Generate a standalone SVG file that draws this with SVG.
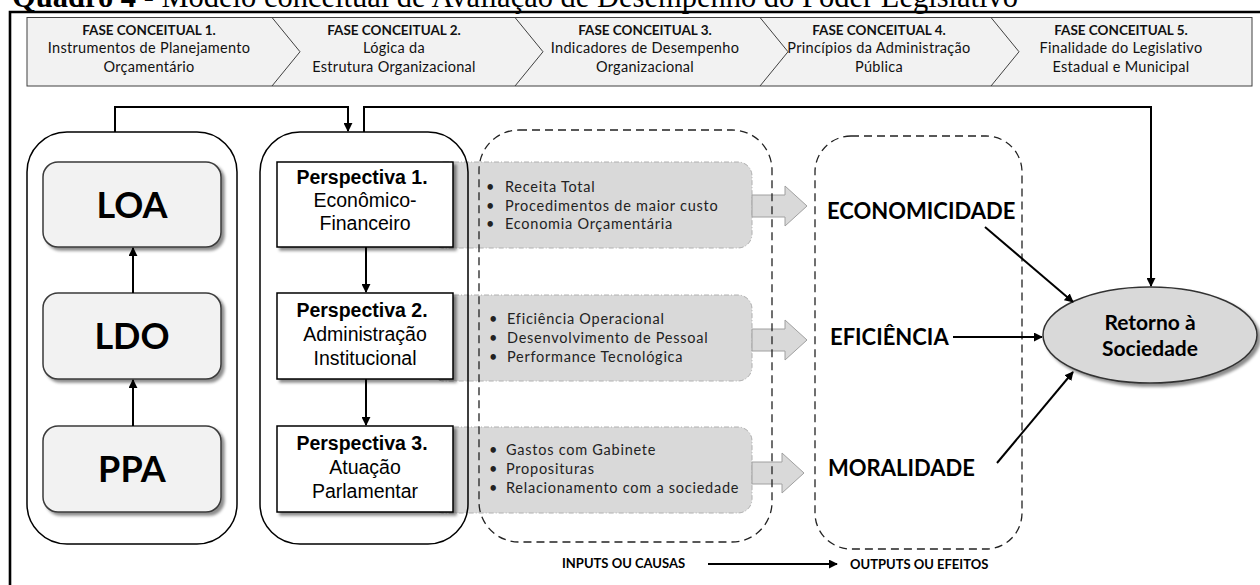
<svg xmlns="http://www.w3.org/2000/svg" width="1260" height="585" viewBox="0 0 1260 585">
<defs>
<style>
.title{font-family:"Liberation Serif","Times New Roman",serif;font-size:30.5px;fill:#000}
.ph{font-family:Lato,"Open Sans",sans-serif;font-size:14.5px;letter-spacing:0.3px;fill:#111;text-anchor:middle}
.phb{font-weight:bold;font-size:13.5px;letter-spacing:0}
.big{font-family:Lato,"Open Sans",sans-serif;font-weight:bold;font-size:36px;fill:#000;text-anchor:middle}
.per{font-family:"Liberation Sans",Arial,sans-serif;font-size:19.5px;fill:#000;text-anchor:middle}
.bul{font-family:Lato,"Open Sans",sans-serif;font-size:14.5px;fill:#222;letter-spacing:0.75px}
.out{font-family:Lato,"Open Sans",sans-serif;font-weight:bold;font-size:22px;fill:#000}
.lab{font-family:Lato,"Open Sans",sans-serif;font-weight:bold;font-size:13px;fill:#000}
.ell{font-family:Lato,"Open Sans",sans-serif;font-weight:bold;font-size:21px;fill:#000;text-anchor:middle}
.con{fill:none;stroke:#000;stroke-width:2}
.cont{fill:none;stroke:#000;stroke-width:1.5}
.dash{fill:none;stroke:#222;stroke-width:1.3;stroke-dasharray:8 5}
.band{fill:#d9d9d9;stroke:#b0b0b0;stroke-width:1;stroke-dasharray:5 2 1 2}
.barrow{fill:#d9d9d9;stroke:#a0a0a0;stroke-width:1}
.gbox{fill:#f2f2f2;stroke:#3a3a3a;stroke-width:1.5}
.wbox{fill:#fff;stroke:#000;stroke-width:1.5}
</style>
<filter id="sh" x="-10%" y="-10%" width="130%" height="130%">
<feDropShadow dx="3" dy="3" stdDeviation="1.8" flood-color="#000" flood-opacity="0.45"/>
</filter>
<marker id="ah" viewBox="0 0 10 10" refX="9" refY="5" markerWidth="4.5" markerHeight="4.5" orient="auto" markerUnits="strokeWidth">
<path d="M0,0 L10,5 L0,10 z" fill="#000"/>
</marker>
</defs>
<rect width="1260" height="585" fill="#fff"/>

<text class="title" x="12" y="6.5"><tspan font-weight="bold">Quadro 4 -</tspan> Modelo conceitual de Avaliação de Desempenho do Poder Legislativo</text>
<path d="M10,585 V12 H1260" fill="none" stroke="#000" stroke-width="2.6"/>

<g id="phases">
<rect x="27" y="17.5" width="1225" height="68.5" fill="#f2f2f2" stroke="#404040" stroke-width="1"/>
<polyline points="272,17.5 300,51.75 272,86" fill="none" stroke="#404040" stroke-width="1"/>
<polyline points="515,17.5 543,51.75 515,86" fill="none" stroke="#404040" stroke-width="1"/>
<polyline points="760,17.5 788,51.75 760,86" fill="none" stroke="#404040" stroke-width="1"/>
<polyline points="991,17.5 1019,51.75 991,86" fill="none" stroke="#404040" stroke-width="1"/>
<g id="phase1"><text class="ph phb" x="149" y="35">FASE CONCEITUAL 1.</text><text class="ph" x="149" y="53">Instrumentos de Planejamento</text><text class="ph" x="149" y="71.5">Orçamentário</text></g>
<g id="phase2"><text class="ph phb" x="394" y="35">FASE CONCEITUAL 2.</text><text class="ph" x="394" y="53">Lógica da</text><text class="ph" x="394" y="71.5">Estrutura Organizacional</text></g>
<g id="phase3"><text class="ph phb" x="645" y="35">FASE CONCEITUAL 3.</text><text class="ph" x="645" y="53">Indicadores de Desempenho</text><text class="ph" x="645" y="71.5">Organizacional</text></g>
<g id="phase4"><text class="ph phb" x="879" y="35">FASE CONCEITUAL 4.</text><text class="ph" x="879" y="53">Princípios da Administração</text><text class="ph" x="879" y="71.5">Pública</text></g>
<g id="phase5"><text class="ph phb" x="1121" y="35">FASE CONCEITUAL 5.</text><text class="ph" x="1121" y="53">Finalidade do Legislativo</text><text class="ph" x="1121" y="71.5">Estadual e Municipal</text></g>
</g>

<g id="bands">
<rect class="band" x="430" y="162" width="322" height="86" rx="14"/>
<rect class="band" x="430" y="295" width="322" height="86" rx="14"/>
<rect class="band" x="430" y="427" width="322" height="86" rx="14"/>
</g>

<g id="block-arrows">
<polygon class="barrow" points="752,195 785,195 785,186 807,206 785,226 785,217 752,217"/>
<polygon class="barrow" points="752,329 785,329 785,320 807,340 785,360 785,351 752,351"/>
<polygon class="barrow" points="752,462 782,462 782,453 804,473 782,493 782,484 752,484"/>
</g>

<g id="containers">
<rect class="cont" x="27" y="132" width="210" height="412" rx="40"/>
<rect class="cont" x="260" y="132" width="208" height="412" rx="40"/>
<rect class="dash" x="479" y="130" width="293" height="412" rx="40"/>
<rect class="dash" x="815" y="136" width="207" height="413" rx="36"/>
</g>

<g id="LOA"><rect class="gbox" x="43" y="162" width="178" height="85" rx="15" filter="url(#sh)"/><text class="big" x="132" y="218">LOA</text></g>
<g id="LDO"><rect class="gbox" x="43" y="293" width="178" height="86" rx="15" filter="url(#sh)"/><text class="big" x="132" y="349">LDO</text></g>
<g id="PPA"><rect class="gbox" x="43" y="426" width="178" height="86" rx="15" filter="url(#sh)"/><text class="big" x="132" y="482">PPA</text></g>

<g id="P1"><rect class="wbox" x="277" y="162" width="176" height="85" filter="url(#sh)"/>
<text class="per" x="362" y="184"><tspan font-weight="bold">Perspectiva 1.</tspan><tspan x="365" dy="23">Econômico-</tspan><tspan x="365" dy="23">Financeiro</tspan></text></g>
<g id="P2"><rect class="wbox" x="277" y="293" width="176" height="86" filter="url(#sh)"/>
<text class="per" x="362" y="317"><tspan font-weight="bold">Perspectiva 2.</tspan><tspan x="365" dy="24">Administração</tspan><tspan x="365" dy="24">Institucional</tspan></text></g>
<g id="P3"><rect class="wbox" x="277" y="426" width="176" height="86" filter="url(#sh)"/>
<text class="per" x="362" y="450"><tspan font-weight="bold">Perspectiva 3.</tspan><tspan x="365" dy="24">Atuação</tspan><tspan x="365" dy="24">Parlamentar</tspan></text></g>

<g id="ind1">
<text class="bul" x="486" y="192">•</text><text class="bul" x="505" y="192">Receita Total</text>
<text class="bul" x="486" y="211">•</text><text class="bul" x="505" y="211">Procedimentos de maior custo</text>
<text class="bul" x="486" y="229">•</text><text class="bul" x="505" y="229">Economia Orçamentária</text>
</g>
<g id="ind2">
<text class="bul" x="489" y="324">•</text><text class="bul" x="507" y="324">Eficiência Operacional</text>
<text class="bul" x="489" y="343">•</text><text class="bul" x="507" y="343">Desenvolvimento de Pessoal</text>
<text class="bul" x="489" y="362">•</text><text class="bul" x="507" y="362">Performance Tecnológica</text>
</g>
<g id="ind3">
<text class="bul" x="489" y="455">•</text><text class="bul" x="506" y="455">Gastos com Gabinete</text>
<text class="bul" x="489" y="474">•</text><text class="bul" x="506" y="474">Proposituras</text>
<text class="bul" x="489" y="493">•</text><text class="bul" x="506" y="493">Relacionamento com a sociedade</text>
</g>

<g id="ECONOMICIDADE"><text class="out" x="827" y="219">ECONOMICIDADE</text></g>
<g id="EFICIENCIA"><text class="out" x="830" y="345">EFICIÊNCIA</text></g>
<g id="MORALIDADE"><text class="out" x="828" y="476">MORALIDADE</text></g>

<g id="retorno"><ellipse cx="1150" cy="335" rx="107" ry="48" fill="#d9d9d9" stroke="#333" stroke-width="1.5" filter="url(#sh)"/>
<text class="ell" x="1150" y="330">Retorno à</text><text class="ell" x="1150" y="356">Sociedade</text></g>

<g id="labels">
<text class="lab" x="562" y="568">INPUTS OU CAUSAS</text>
<text class="lab" x="850" y="569">OUTPUTS OU EFEITOS</text>
</g>

<g id="connectors">
<line class="con" x1="133" y1="426" x2="133" y2="380" marker-end="url(#ah)"/>
<line class="con" x1="133" y1="293" x2="133" y2="248" marker-end="url(#ah)"/>
<line class="con" x1="366" y1="247" x2="366" y2="292" marker-end="url(#ah)"/>
<line class="con" x1="366" y1="379" x2="366" y2="425" marker-end="url(#ah)"/>
<path class="con" d="M115,132 V107 H348 V131" marker-end="url(#ah)"/>
<path class="con" d="M364,132 V107 H1151 V286" marker-end="url(#ah)"/>
<line class="con" x1="985" y1="227" x2="1073" y2="302" marker-end="url(#ah)"/>
<line class="con" x1="953" y1="337" x2="1042" y2="337" marker-end="url(#ah)"/>
<line class="con" x1="997" y1="463" x2="1073" y2="372" marker-end="url(#ah)"/>
<line class="con" x1="708" y1="564" x2="837" y2="564" marker-end="url(#ah)"/>
</g>
</svg>
